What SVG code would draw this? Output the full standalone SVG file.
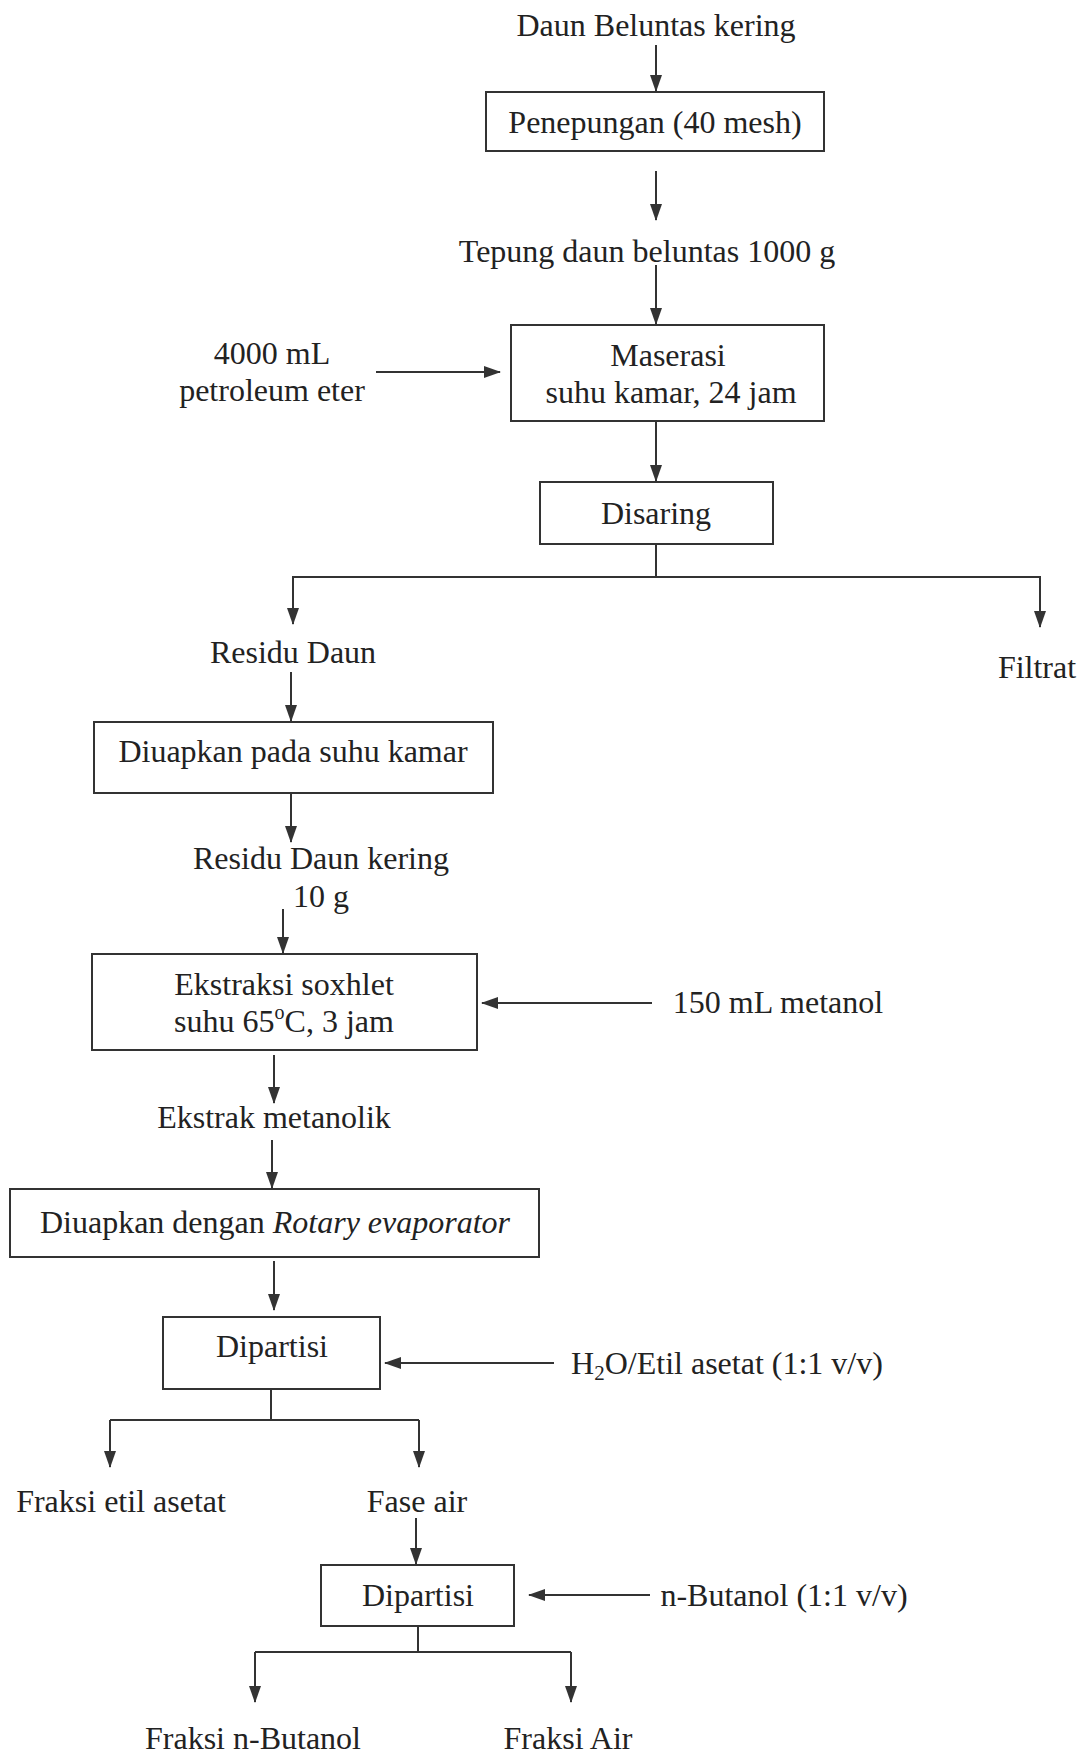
<svg xmlns="http://www.w3.org/2000/svg" width="1083" height="1757" viewBox="0 0 1083 1757">
<style>
text{font-family:"Liberation Serif","Times New Roman",serif;font-size:32px;fill:#222;text-anchor:middle}
.box{fill:none;stroke:#333;stroke-width:2}
.ln{fill:none;stroke:#333;stroke-width:2}
.ar{fill:none;stroke:#333;stroke-width:2;marker-end:url(#ah)}
</style>
<defs>
<marker id="ah" markerUnits="userSpaceOnUse" markerWidth="18" markerHeight="12" refX="16" refY="6" orient="auto">
<path d="M0,0 L17,6 L0,12 z" fill="#333"/>
</marker>
</defs>
<rect width="1083" height="1757" fill="#fff"/>
<g id="connectors">
<line class="ar" x1="656" y1="45" x2="656" y2="91"/>
<line class="ar" x1="656" y1="171" x2="656" y2="220"/>
<line class="ar" x1="656" y1="265" x2="656" y2="324"/>
<line class="ar" x1="376" y1="372" x2="500" y2="372"/>
<line class="ar" x1="656" y1="421" x2="656" y2="481"/>
<polyline class="ln" points="656,544 656,577"/>
<polyline class="ln" points="293,624 293,577 1040,577 1040,627"/>
<line class="ar" x1="293" y1="577" x2="293" y2="624"/>
<line class="ar" x1="1040" y1="577" x2="1040" y2="627"/>
<line class="ar" x1="291" y1="672" x2="291" y2="721"/>
<line class="ar" x1="291" y1="793" x2="291" y2="842"/>
<line class="ar" x1="283" y1="909" x2="283" y2="953"/>
<line class="ar" x1="652" y1="1003" x2="482" y2="1003"/>
<line class="ar" x1="274" y1="1055" x2="274" y2="1103"/>
<line class="ar" x1="272" y1="1140" x2="272" y2="1188"/>
<line class="ar" x1="274" y1="1261" x2="274" y2="1310"/>
<line class="ar" x1="554" y1="1363" x2="385" y2="1363"/>
<polyline class="ln" points="271,1390 271,1420"/>
<polyline class="ln" points="110,1420 419,1420"/>
<line class="ar" x1="110" y1="1420" x2="110" y2="1467"/>
<line class="ar" x1="419" y1="1420" x2="419" y2="1467"/>
<line class="ar" x1="416" y1="1518" x2="416" y2="1564"/>
<line class="ar" x1="650" y1="1595" x2="529" y2="1595"/>
<polyline class="ln" points="418,1626 418,1652"/>
<polyline class="ln" points="255,1652 571,1652"/>
<line class="ar" x1="255" y1="1652" x2="255" y2="1702"/>
<line class="ar" x1="571" y1="1652" x2="571" y2="1702"/>
</g>
<g id="n1"><text x="656" y="36">Daun Beluntas kering</text></g>
<g id="n2"><rect class="box" x="486" y="92" width="338" height="59"/><text x="655" y="133">Penepungan (40 mesh)</text></g>
<g id="n3"><text x="647" y="262">Tepung daun beluntas 1000 g</text></g>
<g id="n4"><text x="272" y="364">4000 mL</text><text x="272" y="401">petroleum eter</text></g>
<g id="n5"><rect class="box" x="511" y="325" width="313" height="96"/><text x="668" y="366">Maserasi</text><text x="671" y="403">suhu kamar, 24 jam</text></g>
<g id="n6"><rect class="box" x="540" y="482" width="233" height="62"/><text x="656" y="524">Disaring</text></g>
<g id="n7"><text x="293" y="663">Residu Daun</text></g>
<g id="n8"><text x="1037" y="678">Filtrat</text></g>
<g id="n9"><rect class="box" x="94" y="722" width="399" height="71"/><text x="293" y="762">Diuapkan pada suhu kamar</text></g>
<g id="n10"><text x="321" y="869">Residu Daun kering</text><text x="321" y="907">10 g</text></g>
<g id="n11"><rect class="box" x="92" y="954" width="385" height="96"/><text x="284" y="995">Ekstraksi soxhlet</text><text x="284" y="1032">suhu 65<tspan font-size="20" dy="-13">o</tspan><tspan dy="13">C, 3 jam</tspan></text></g>
<g id="n12"><text x="778" y="1013">150 mL metanol</text></g>
<g id="n13"><text x="274" y="1128">Ekstrak metanolik</text></g>
<g id="n14"><rect class="box" x="10" y="1189" width="529" height="68"/><text x="275" y="1233">Diuapkan dengan <tspan font-style="italic">Rotary evaporator</tspan></text></g>
<g id="n15"><rect class="box" x="163" y="1317" width="217" height="72"/><text x="272" y="1357">Dipartisi</text></g>
<g id="n16"><text x="727" y="1374">H<tspan font-size="21" dy="6">2</tspan><tspan dy="-6">O/Etil asetat (1:1 v/v)</tspan></text></g>
<g id="n17"><text x="121" y="1512">Fraksi etil asetat</text></g>
<g id="n18"><text x="417" y="1512">Fase air</text></g>
<g id="n19"><rect class="box" x="321" y="1565" width="193" height="61"/><text x="418" y="1606">Dipartisi</text></g>
<g id="n20"><text x="784" y="1606">n-Butanol (1:1 v/v)</text></g>
<g id="n21"><text x="253" y="1749">Fraksi n-Butanol</text></g>
<g id="n22"><text x="568" y="1749">Fraksi Air</text></g>
</svg>
